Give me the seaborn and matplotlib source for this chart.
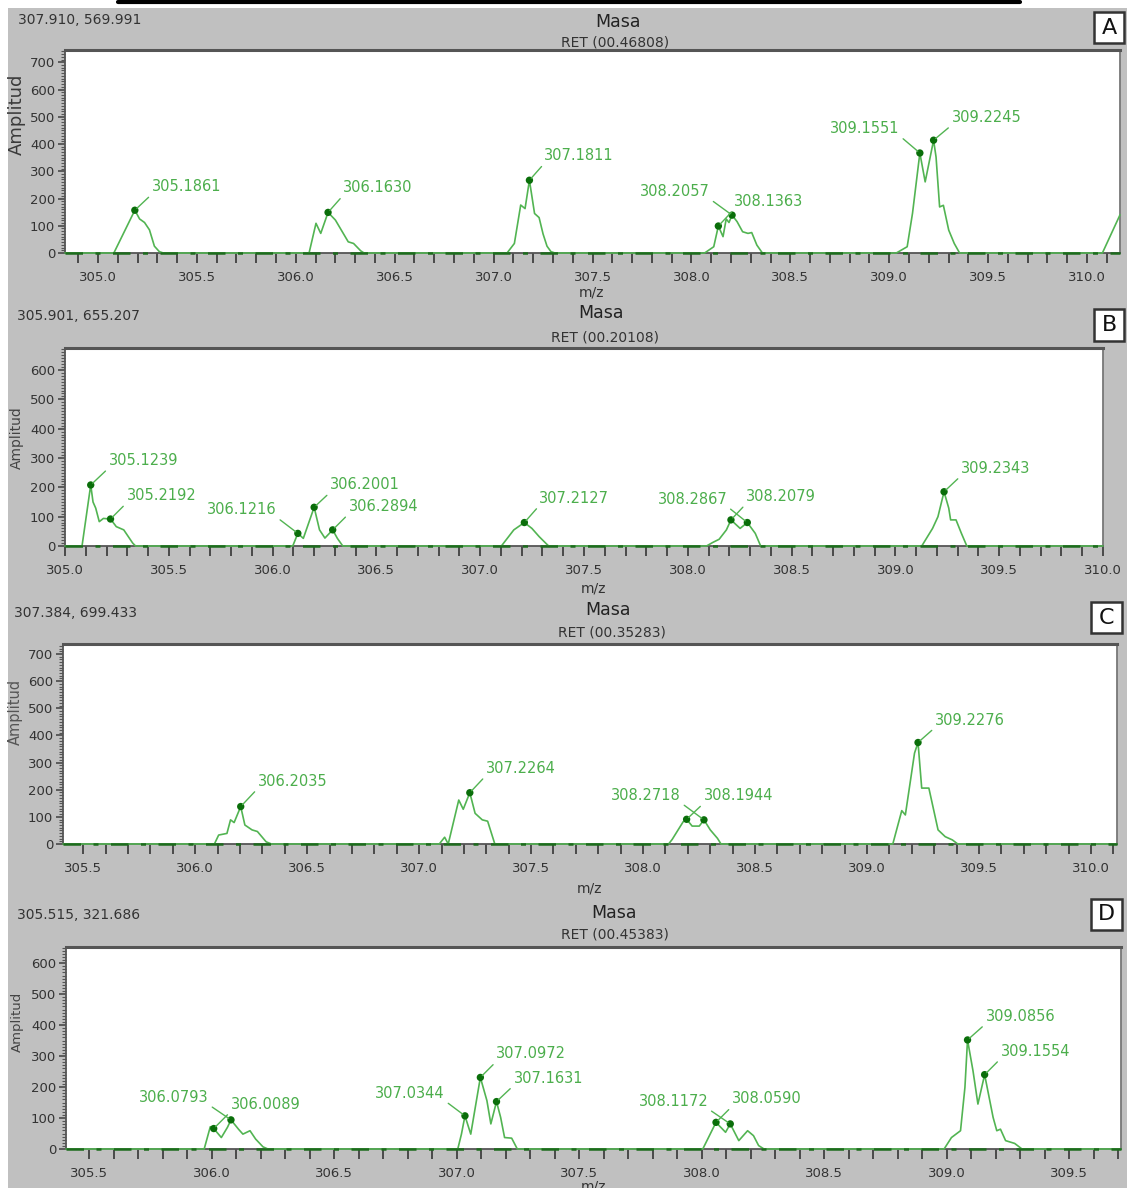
import matplotlib
matplotlib.use("Agg")
import matplotlib.pyplot as plt
from matplotlib.ticker import MultipleLocator, FormatStrFormatter
from matplotlib.patches import Rectangle
from matplotlib.lines import Line2D
import seaborn as sns

# ---------------- spectra (m/z vertices and amplitudes) ----------------
A_MZ = [304.833, 305.08, 305.1861, 305.21, 305.235, 305.26, 305.285, 305.31, 305.33,
        306.067, 306.102, 306.126, 306.163, 306.2, 306.265, 306.292, 306.328, 306.345,
        307.068, 307.105, 307.137, 307.159, 307.1811, 307.207, 307.23, 307.25, 307.27, 307.29, 307.31,
        308.067, 308.113, 308.1363, 308.16, 308.176, 308.19, 308.2057, 308.231, 308.259, 308.286,
        308.305, 308.331, 308.359,
        309.036, 309.091, 309.118, 309.1551, 309.182, 309.2245, 309.237, 309.255, 309.274, 309.301,
        309.329, 309.356,
        310.078, 310.167]
A_AMP = [0, 0, 157, 125, 112, 85, 25, 5, 0,
         0, 109, 72, 149, 121, 41, 35, 8, 0,
         0, 35, 176, 163, 267, 145, 130, 70, 25, 5, 0,
         0, 23, 99, 60, 125, 112, 139, 115, 78, 72,
         75, 29, 0,
         0, 23, 146, 367, 261, 414, 352, 169, 175, 84,
         35, 0,
         0, 140]
A_PEAKS = [305.1861, 306.1630, 307.1811, 308.1363, 308.2057, 309.1551, 309.2245]
A_PEAK_AMP = [157, 149, 267, 99, 139, 367, 414]
A_CURSOR = "307.910, 569.991"
A_RET = "RET (00.46808)"

B_MZ = [305.0, 305.082, 305.1239, 305.135, 305.148, 305.165, 305.185, 305.2192, 305.247, 305.283,
        305.326, 305.34,
        306.097, 306.1216, 306.148, 306.2001, 306.226, 306.252, 306.2894, 306.312, 306.338,
        307.102, 307.162, 307.2127, 307.249, 307.284, 307.318, 307.33,
        308.09, 308.12, 308.151, 308.186, 308.2079, 308.252, 308.2867, 308.325, 308.351,
        309.127, 309.179, 309.205, 309.2343, 309.257, 309.266, 309.292, 309.318, 309.344, 310.0]
B_AMP = [0, 0, 208, 150, 129, 83, 94, 92, 66, 55,
         10, 0,
         0, 43, 26, 132, 55, 27, 55, 26, 0,
         0, 55, 80, 60, 32, 8, 0,
         0, 12, 23, 55, 89, 60, 80, 43, 0,
         0, 60, 100, 185, 129, 89, 89, 43, 0, 0]
B_PEAKS = [305.1239, 305.2192, 306.1216, 306.2001, 306.2894, 307.2127, 308.2079, 308.2867, 309.2343]
B_PEAK_AMP = [208, 92, 43, 132, 55, 80, 89, 80, 185]
B_CURSOR = "305.901, 655.207"
B_RET = "RET (00.20108)"

C_MZ = [305.41, 306.086, 306.105, 306.142, 306.158, 306.174, 306.2035, 306.222, 306.254, 306.278,
        306.317, 306.341,
        307.09, 307.114, 307.13, 307.177, 307.197, 307.2264, 307.25, 307.282, 307.306, 307.338,
        308.114, 308.13, 308.179, 308.1944, 308.219, 308.251, 308.2718, 308.3, 308.332, 308.348,
        309.115, 309.155, 309.171, 309.212, 309.2276, 309.244, 309.276, 309.317, 309.349, 309.381,
        309.405, 310.116]
C_AMP = [0, 0, 33, 39, 89, 79, 138, 70, 52, 46,
         8, 0,
         0, 25, 0, 162, 128, 189, 113, 89, 84, 0,
         0, 17, 82, 91, 66, 66, 89, 52, 21, 0,
         0, 123, 107, 335, 374, 206, 206, 52, 27, 15,
         0, 0]
C_PEAKS = [306.2035, 307.2264, 308.1944, 308.2718, 309.2276]
C_PEAK_AMP = [138, 189, 91, 89, 374]
C_CURSOR = "307.384, 699.433"
C_RET = "RET (00.35283)"

D_MZ = [305.406, 305.97, 305.995, 306.0089, 306.04, 306.065, 306.0793, 306.11, 306.128, 306.157,
        306.18, 306.21, 306.23,
        307.005, 307.02, 307.0344, 307.058, 307.0972, 307.124, 307.14, 307.1631, 307.18, 307.196,
        307.225, 307.248,
        308.005, 308.0590, 308.098, 308.1172, 308.152, 308.188, 308.212, 308.233, 308.255,
        308.99, 309.02, 309.057, 309.075, 309.0856, 309.108, 309.128, 309.1554, 309.19, 309.205,
        309.22, 309.241, 309.278, 309.308, 309.712]
D_AMP = [0, 0, 72, 66, 37, 70, 94, 64, 48, 59,
         32, 7, 0,
         0, 48, 107, 48, 231, 156, 81, 153, 102, 37,
         35, 0,
         0, 86, 54, 81, 27, 59, 43, 11, 0,
         0, 37, 59, 199, 352, 252, 145, 240, 102, 59,
         64, 27, 18, 0, 0]
D_PEAKS = [306.0089, 306.0793, 307.0344, 307.0972, 307.1631, 308.0590, 308.1172, 309.0856, 309.1554]
D_PEAK_AMP = [66, 94, 107, 231, 153, 86, 81, 352, 240]
D_CURSOR = "305.515, 321.686"
D_RET = "RET (00.45383)"

# ---------------- layout (pixels on a 1127 x 1188 canvas) ----------------
W, H = 1127, 1188
LINE_GREEN = "#52b452"
TEXT_GREEN = "#4cae4c"
DOT_GREEN = "#0a6e0a"
BASE_GREEN = "#1d6b1d"
GREY_BG = "#c0c0c0"
FRAME = "#555555"

# label offsets (dx, dy) in pixels from each peak dot; negative dx puts the label on the left
A_OFFS = [(17, 19), (15, 20), (15, 20), (16, 20), (-22, 19), (-20, 20), (18, 18)]
B_OFFS = [(18, 20), (16, 19), (-21, 19), (16, 18), (16, 19), (15, 20), (15, 19), (-20, 19), (17, 19)]
C_OFFS = [(17, 21), (16, 20), (17, 19), (-23, 20), (17, 18)]
D_OFFS = [(17, 20), (-22, 18), (-20, 18), (16, 19), (17, 19), (16, 19), (-22, 18), (18, 19), (16, 19)]

PANELS = [
    dict(letter="A", mz=A_MZ, amp=A_AMP, peaks=A_PEAKS, peak_amp=A_PEAK_AMP, offs=A_OFFS,
         cursor=A_CURSOR, ret=A_RET, rect=(65, 50, 1120, 253), xlim=(304.833, 310.167), ylim=(0, 745),
         cursor_xy=(18, 20), masa_xy=(618, 22), ret_xy=(615, 42), box=(1094, 12, 30, 31),
         ylab_xy=(17, 114), ylab_size=13, ylab_color="#3a3a3a", xlab_xy=(592, 292), xlab_va="center"),
    dict(letter="B", mz=B_MZ, amp=B_AMP, peaks=B_PEAKS, peak_amp=B_PEAK_AMP, offs=B_OFFS,
         cursor=B_CURSOR, ret=B_RET, rect=(65, 348, 1103, 546), xlim=(305.0, 310.0), ylim=(0, 675),
         cursor_xy=(17, 316), masa_xy=(601, 313), ret_xy=(605, 337), box=(1094, 309, 30, 32),
         ylab_xy=(17, 438), ylab_size=10, ylab_color="#444444", xlab_xy=(594, 588), xlab_va="center"),
    dict(letter="C", mz=C_MZ, amp=C_AMP, peaks=C_PEAKS, peak_amp=C_PEAK_AMP, offs=C_OFFS,
         cursor=C_CURSOR, ret=C_RET, rect=(63, 644, 1117, 844), xlim=(305.41, 310.116), ylim=(0, 737),
         cursor_xy=(14, 613), masa_xy=(608, 610), ret_xy=(612, 633), box=(1091, 602, 31, 31),
         ylab_xy=(15, 712), ylab_size=10.5, ylab_color="#555555", xlab_xy=(590, 889), xlab_va="center"),
    dict(letter="D", mz=D_MZ, amp=D_AMP, peaks=D_PEAKS, peak_amp=D_PEAK_AMP, offs=D_OFFS,
         cursor=D_CURSOR, ret=D_RET, rect=(66, 947, 1121, 1149), xlim=(305.406, 309.712), ylim=(0, 652),
         cursor_xy=(17, 915), masa_xy=(614, 913), ret_xy=(615, 935), box=(1091, 899, 31, 31),
         ylab_xy=(17, 1022), ylab_size=9.5, ylab_color="#444444", xlab_xy=(594, 1180), xlab_va="top"),
]

sns.set_style("ticks")
plt.rcParams["font.family"] = ["DejaVu Sans"]
plt.rcParams["axes.linewidth"] = 1.3


def fx(x):
    return x / W


def fy(y):
    return 1 - y / H


fig = plt.figure(figsize=(W / 100, H / 100), dpi=100, facecolor="white")

# grey window background and the rule at the very top
fig.add_artist(Rectangle((fx(8), 0), (W - 8) / W, (H - 8) / H, transform=fig.transFigure,
                         facecolor=GREY_BG, edgecolor="none", zorder=-10))
fig.add_artist(Line2D([fx(118), fx(1020)], [fy(1.5), fy(1.5)], color="black", lw=3))

for p in PANELS:
    l, t, r, b = p["rect"]
    ax = fig.add_axes([fx(l), fy(b), (r - l) / W, (b - t) / H])
    ax.set_facecolor("white")
    ax.set_xlim(*p["xlim"])
    ax.set_ylim(*p["ylim"])

    # spectrum trace, zero line, picked peaks
    sns.lineplot(x=p["mz"], y=p["amp"], ax=ax, color=LINE_GREEN, linewidth=1.2,
                 sort=False, estimator=None, clip_on=False, zorder=4)
    ax.plot(p["xlim"], [0, 0], color=BASE_GREEN, lw=1.8, linestyle=(0, (7, 5, 2, 5)),
            clip_on=False, zorder=6)
    sns.scatterplot(x=p["peaks"], y=p["peak_amp"], ax=ax, color=DOT_GREEN, s=28,
                    edgecolor="none", zorder=7, legend=False)

    for mz, a, (dx, dy) in zip(p["peaks"], p["peak_amp"], p["offs"]):
        left = dx < 0
        ax.annotate(f"{mz:.4f}", xy=(mz, a), xytext=(dx, dy), textcoords="offset pixels",
                    ha="right" if left else "left", va="baseline", fontsize=10.5,
                    color=TEXT_GREEN, zorder=8,
                    arrowprops=dict(arrowstyle="-", color=LINE_GREEN, lw=1.0,
                                    shrinkA=0, shrinkB=2,
                                    relpos=(1, 0) if left else (0, 0)))

    # axes styling
    for side in ["left", "right", "top", "bottom"]:
        ax.spines[side].set_color(FRAME)
    ax.spines["top"].set_linewidth(2.2)
    ax.spines["right"].set_color("#777777")
    ax.xaxis.set_major_locator(MultipleLocator(0.5))
    ax.xaxis.set_minor_locator(MultipleLocator(0.1))
    ax.xaxis.set_major_formatter(FormatStrFormatter("%.1f"))
    ax.yaxis.set_major_locator(MultipleLocator(100))
    ax.yaxis.set_minor_locator(MultipleLocator(10))
    ax.yaxis.set_major_formatter(FormatStrFormatter("%d"))
    ax.tick_params(axis="x", which="both", direction="out", length=7, width=1.3,
                   color="#404040", labelsize=9.5, labelcolor="#333333", pad=6)
    ax.tick_params(axis="y", which="major", direction="out", length=5, width=1.1,
                   color="#404040", labelsize=9.5, labelcolor="#333333", pad=2)
    ax.tick_params(axis="y", which="minor", direction="out", length=3, width=0.8,
                   color="#555555")
    ax.set_xlabel("")
    ax.set_ylabel("")

    # header texts
    cx, cy = p["cursor_xy"]
    fig.text(fx(cx), fy(cy), p["cursor"], ha="left", va="center", fontsize=10,
             color="#333333")
    mx, my = p["masa_xy"]
    fig.text(fx(mx), fy(my), "Masa", ha="center", va="center", fontsize=12.5, color="#222222")
    rx, ry = p["ret_xy"]
    fig.text(fx(rx), fy(ry), p["ret"], ha="center", va="center", fontsize=10, color="#333333")

    # axis titles
    yx, yy = p["ylab_xy"]
    fig.text(fx(yx), fy(yy), "Amplitud", rotation=90, ha="center", va="center",
             fontsize=p["ylab_size"], color=p["ylab_color"])
    lx, ly = p["xlab_xy"]
    fig.text(fx(lx), fy(ly), "m/z", ha="center", va=p["xlab_va"], fontsize=10, color="#333333")

    # panel letter box
    bx, by, bw, bh = p["box"]
    fig.add_artist(Rectangle((fx(bx), fy(by + bh)), bw / W, bh / H, transform=fig.transFigure,
                             facecolor="white", edgecolor="#333333", lw=1.8, zorder=5))
    fig.text(fx(bx + bw / 2), fy(by + bh / 2), p["letter"], ha="center", va="center",
             fontsize=16, color="#111111", zorder=6)

fig.savefig("out.png", dpi=100, facecolor=fig.get_facecolor())
